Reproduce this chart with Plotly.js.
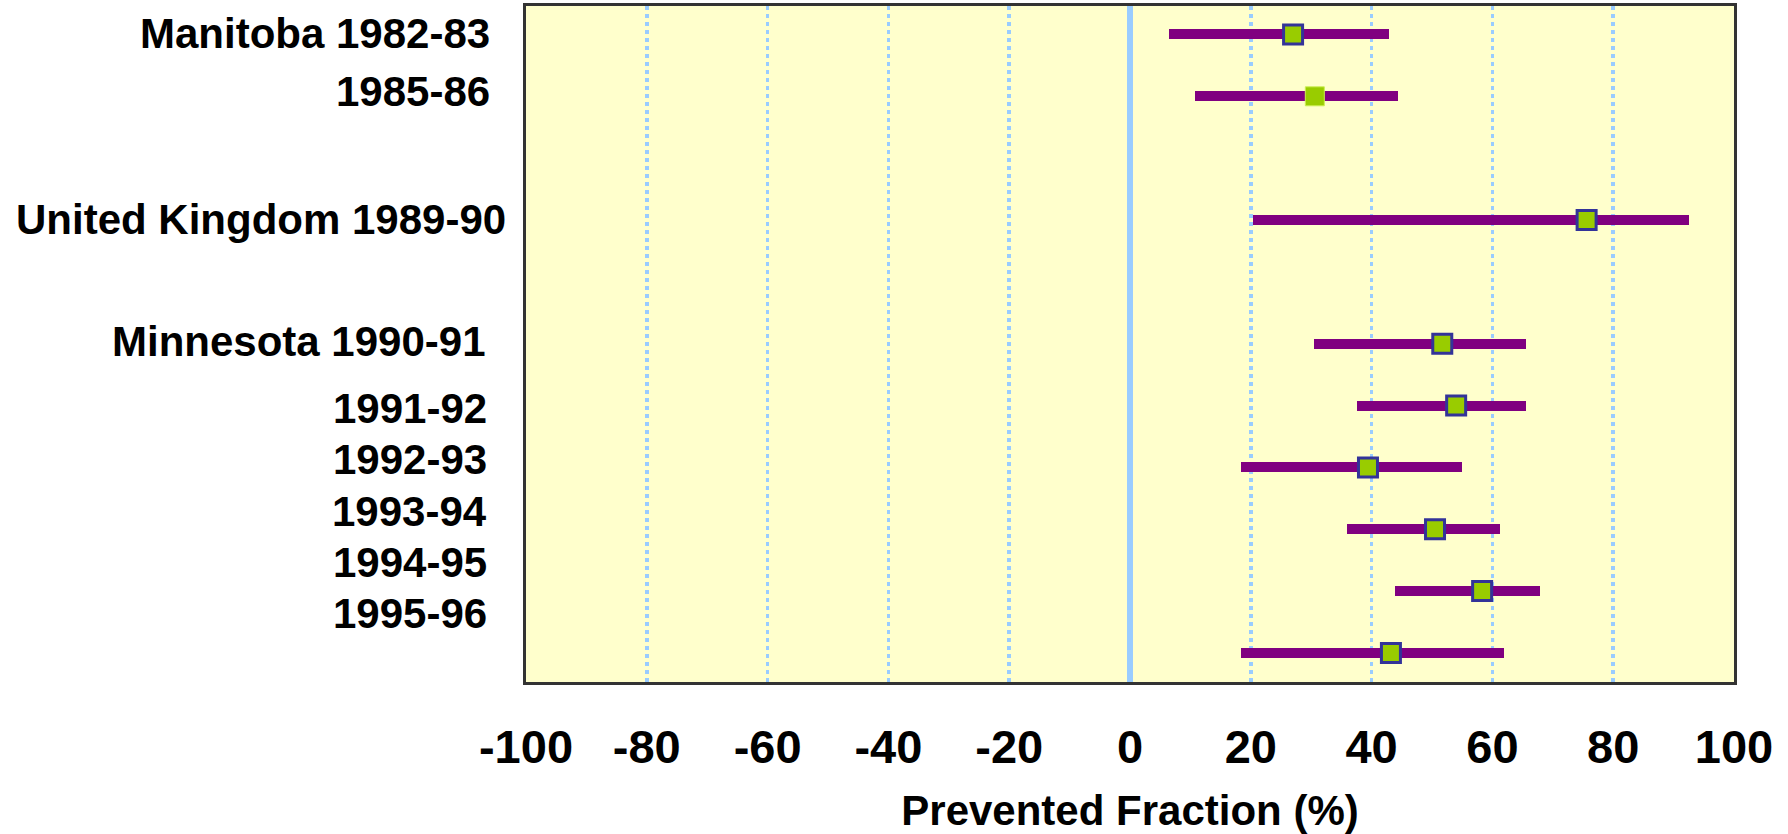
<!DOCTYPE html>
<html>
<head>
<meta charset="utf-8">
<script src="https://cdn.plot.ly/plotly-3.0.1.min.js"></script>
<style>
html, body { margin: 0; padding: 0; background: #ffffff; }
#chart { width: 1788px; height: 834px; }
</style>
</head>
<body>
<div id="chart"></div>
<script>
// Row positions (top to bottom) of each study interval
var rowPos = [0, 1, 3, 5, 6, 7, 8, 9, 10];
// Lower and upper confidence limits (%), and point estimates (%)
var lowCI  = [6.4, 10.8, 20.4, 30.4, 37.6, 18.4, 36.0, 43.8, 18.4];
var highCI = [42.8, 44.3, 92.6, 65.5, 65.5, 55.0, 61.2, 67.8, 62.0];
var estimate = [27.0, 30.6, 75.6, 51.7, 54.0, 39.4, 50.5, 58.3, 43.2];
// Row labels and where they sit
var labelText = ["Manitoba 1982-83", "1985-86", "United Kingdom 1989-90", "Minnesota 1990-91",
                 "1991-92", "1992-93", "1993-94", "1994-95", "1995-96"];
var labelPos = [-0.02, 0.93, 3.0, 4.97, 6.04, 6.88, 7.71, 8.53, 9.36];
var labelRight = [-0.0285, -0.0285, -0.0145, -0.0318, -0.0306, -0.0306, -0.0306, -0.0306, -0.0306];
// X tick values
var xTicks = [-100, -80, -60, -40, -20, 0, 20, 40, 60, 80, 100];

var FONT = "Liberation Sans, Arial, Helvetica, sans-serif";

var spans = lowCI.map(function (l, i) { return highCI[i] - l; });

var ciTrace = {
  type: "bar",
  orientation: "h",
  y: rowPos,
  base: lowCI,
  x: spans,
  width: 0.162,
  marker: { color: "#800080", line: { width: 0 } },
  hoverinfo: "skip",
  showlegend: false
};

var lineColors = rowPos.map(function (p, i) { return i === 1 ? "#ccee55" : "#333399"; });
var lineWidths = rowPos.map(function (p, i) { return i === 1 ? 1 : 3; });

var estTrace = {
  type: "scatter",
  mode: "markers",
  x: estimate,
  y: rowPos,
  marker: {
    symbol: "square",
    size: 19,
    color: "#99cc00",
    line: { color: lineColors, width: lineWidths }
  },
  hoverinfo: "skip",
  showlegend: false,
  cliponaxis: false
};

var annotations = labelText.map(function (t, i) {
  return {
    text: t,
    xref: "paper",
    yref: "y",
    x: labelRight[i],
    y: labelPos[i],
    xanchor: "right",
    yanchor: "middle",
    showarrow: false,
    font: { family: FONT, size: 42, color: "#000000", weight: "bold" }
  };
});

var layout = {
  width: 1788,
  height: 834,
  margin: { l: 526, r: 54, t: 6, b: 152, pad: 0 },
  paper_bgcolor: "#ffffff",
  plot_bgcolor: "#ffffcc",
  bargap: 0,
  xaxis: {
    range: [-100, 100],
    tickvals: xTicks,
    ticktext: xTicks.map(String),
    showgrid: true,
    gridcolor: "#99ccff",
    gridwidth: 3.5,
    griddash: "4px,4px",
    zeroline: true,
    zerolinecolor: "#99ccff",
    zerolinewidth: 6,
    showline: true,
    linecolor: "#333333",
    linewidth: 3,
    mirror: true,
    ticks: "",
    ticklabelstandoff: 22,
    tickfont: { family: FONT, size: 47, color: "#000000", weight: "bold" },
    title: {
      text: "Prevented Fraction (%)",
      font: { family: FONT, size: 42, color: "#000000", weight: "bold" },
      standoff: 24
    },
    automargin: false,
    fixedrange: true
  },
  yaxis: {
    range: [10.47, -0.46],
    showgrid: false,
    zeroline: false,
    showticklabels: false,
    ticks: "",
    showline: true,
    linecolor: "#333333",
    linewidth: 3,
    mirror: true,
    automargin: false,
    fixedrange: true
  },
  annotations: annotations
};

Plotly.newPlot("chart", [ciTrace, estTrace], layout, { displayModeBar: false, staticPlot: true });
</script>
</body>
</html>
